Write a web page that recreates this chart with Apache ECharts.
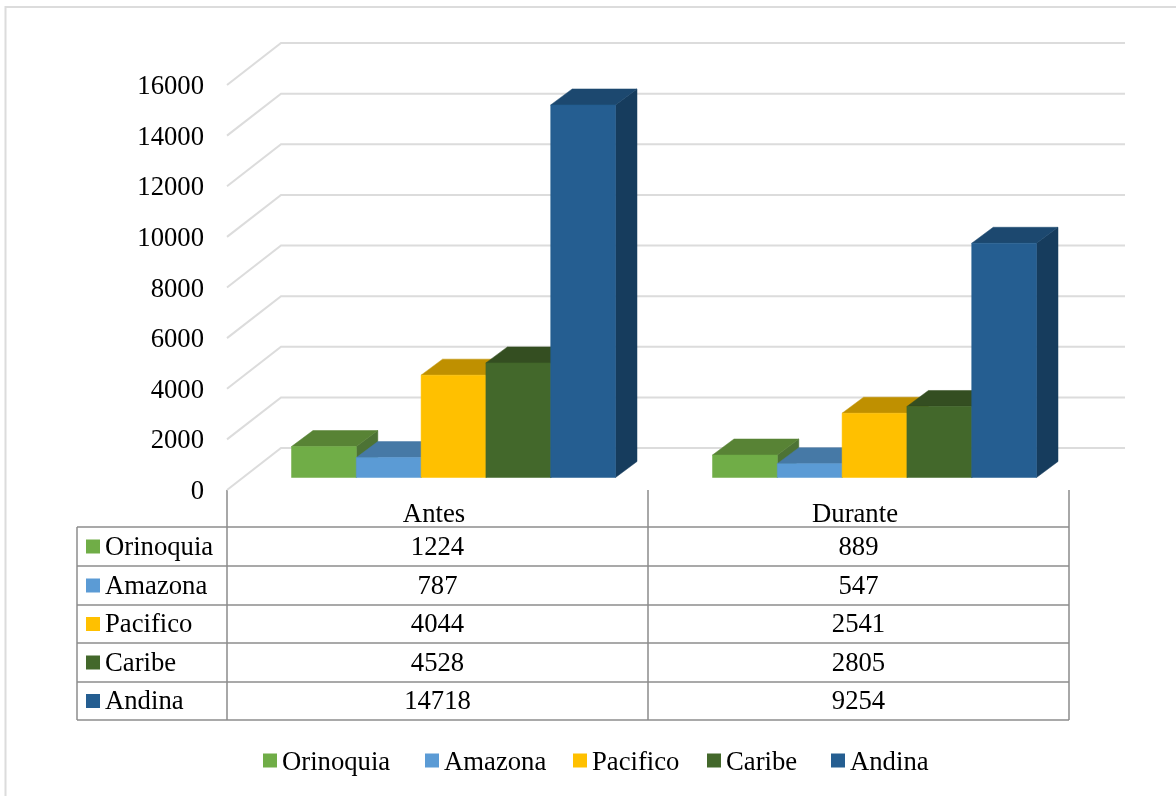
<!DOCTYPE html>
<html>
<head>
<meta charset="utf-8">
<style>
  html, body { margin: 0; padding: 0; background: #fff; }
  #chart { width: 1176px; height: 796px; }
</style>
<script src="https://cdn.jsdelivr.net/npm/echarts@6/dist/echarts.min.js"></script>
</head>
<body>
<div id="chart"></div>
<script>
const periods = ['Antes', 'Durante'];
const regions = ['Orinoquia', 'Amazona', 'Pacifico', 'Caribe', 'Andina'];
const orinoquia = [1224, 889];
const amazona = [787, 547];
const pacifico = [4044, 2541];
const caribe = [4528, 2805];
const andina = [14718, 9254];
const yTicks = [0, 2000, 4000, 6000, 8000, 10000, 12000, 14000, 16000];

const regionValues = [orinoquia, amazona, pacifico, caribe, andina];
// front, top, side
const regionColors = [
  ['#70ad47', '#588335', '#4d7335'],
  ['#5b9bd5', '#4679a6', '#3f6d96'],
  ['#ffc000', '#bf9000', '#a67d00'],
  ['#43682b', '#344e21', '#2c441c'],
  ['#255e91', '#1c486f', '#163c5d'],
];

const fontFamily = '"Liberation Serif", "Times New Roman", serif';
const fontSize = 26.7;
const gridColor = '#dcdcdc';
const tableColor = '#8c8c8c';

// floor depth of the fake 3d box
const wallDx = 54;
const wallDy = 42;
const wallRight = 1125;
// bars sit part way into the floor
const barShiftX = 16;
const barShiftY = 12.5;
const barWidth = 64.8;
const barDx = 21.5;
const barDy = 16;

const gridLeft = 227;
const gridRight = 1069;
const gridTop = 85;
const gridBottom = 490;

const tableLeft = 77;
const rowLines = [527, 566, 605, 643, 682, 720];
// word's legend spacing is not even, so each entry gets its own spot
const legendLefts = [263, 425, 573, 707, 831];
// plain padding does not move middle aligned labels down, rich text does
const nudged = { t: { fontSize, fontFamily, color: '#000', padding: [4, 0, 0, 0] } };

const renderBar = (regionIndex) => (params, api) => {
  const base = api.coord([api.value(0), 0]);
  const top = api.coord([api.value(0), api.value(1)]);
  const x0 = base[0] + barShiftX + (regionIndex - 2.5) * barWidth;
  const x1 = x0 + barWidth;
  const y0 = base[1] - barShiftY;
  const y1 = top[1] - barShiftY;
  const colors = regionColors[regionIndex];
  const poly = (points, fill) => ({
    type: 'polygon',
    shape: { points },
    style: { fill, stroke: fill, lineWidth: 0.5 },
  });
  return {
    type: 'group',
    children: [
      poly([[x1, y0], [x1 + barDx, y0 - barDy], [x1 + barDx, y1 - barDy], [x1, y1]], colors[2]),
      poly([[x0, y1], [x1, y1], [x1 + barDx, y1 - barDy], [x0 + barDx, y1 - barDy]], colors[1]),
      poly([[x0, y0], [x1, y0], [x1, y1], [x0, y1]], colors[0]),
    ],
  };
};

const renderWall = (params, api) => {
  const p = api.coord([0, api.value(0)]);
  const start = [gridLeft, p[1]];
  return {
    type: 'polyline',
    shape: { points: [start, [start[0] + wallDx, start[1] - wallDy], [wallRight, start[1] - wallDy]] },
    style: { fill: 'none', stroke: gridColor, lineWidth: 2 },
    silent: true,
  };
};

const tableGraphic = () => {
  const items = [];
  const colCenter = [(gridLeft + 648) / 2, (648 + gridRight) / 2];
  // chart frame, only top and left show in the picture
  items.push({
    type: 'polyline',
    shape: { points: [[5.5, 796], [5.5, 7], [1176, 7]] },
    style: { fill: 'none', stroke: gridColor, lineWidth: 2 },
  });
  rowLines.forEach((y) => {
    items.push({
      type: 'line',
      shape: { x1: tableLeft, y1: y, x2: gridRight, y2: y },
      style: { stroke: tableColor, lineWidth: 1.5 },
    });
  });
  items.push({
    type: 'line',
    shape: { x1: tableLeft, y1: rowLines[0], x2: tableLeft, y2: rowLines[5] },
    style: { stroke: tableColor, lineWidth: 1.5 },
  });
  regions.forEach((name, i) => {
    const mid = (rowLines[i] + rowLines[i + 1]) / 2;
    items.push({
      type: 'rect',
      shape: { x: 86, y: mid - 7, width: 14, height: 14 },
      style: { fill: regionColors[i][0] },
    });
    items.push({
      type: 'text',
      style: { x: 105, y: mid + 1, text: name, font: fontSize + 'px ' + fontFamily, fill: '#000', verticalAlign: 'middle' },
    });
    regionValues[i].forEach((v, c) => {
      items.push({
        type: 'text',
        style: {
          x: colCenter[c], y: mid + 1, text: String(v), font: fontSize + 'px ' + fontFamily,
          fill: '#000', align: 'center', verticalAlign: 'middle',
        },
      });
    });
  });
  return items;
};

const chart = echarts.init(document.getElementById('chart'));

chart.setOption({
  animation: false,
  backgroundColor: '#fff',
  textStyle: { fontFamily },
  grid: { left: gridLeft, right: 1176 - gridRight, top: gridTop, bottom: 796 - gridBottom },
  legend: regions.map((name, i) => ({
    data: [name],
    left: legendLefts[i],
    top: 749,
    padding: 0,
    icon: 'rect',
    itemWidth: 14,
    itemHeight: 14,
    formatter: (n) => `{t|${n}}`,
    textStyle: { fontFamily, fontSize, color: '#000', rich: nudged },
  })),
  xAxis: {
    type: 'category',
    data: periods,
    axisLine: { show: false },
    axisTick: { show: true, length: 230, lineStyle: { color: tableColor, width: 1.5 } },
    axisLabel: { fontSize, color: '#000', margin: 11, fontFamily, padding: [0, 7, 0, 0] },
    splitLine: { show: false },
  },
  yAxis: {
    type: 'value',
    min: 0,
    max: 16000,
    interval: 2000,
    axisLine: { show: false },
    axisTick: { show: false },
    splitLine: { show: false },
    axisLabel: { fontSize, color: '#000', margin: 23, fontFamily, rich: nudged, formatter: (v) => `{t|${v}}` },
  },
  graphic: tableGraphic(),
  series: [
    {
      name: 'walls',
      type: 'custom',
      silent: true,
      renderItem: renderWall,
      encode: { y: 0 },
      data: yTicks.map((t) => [t]),
      z: 1,
    },
    ...regions.map((name, i) => ({
      name,
      type: 'custom',
      renderItem: renderBar(i),
      itemStyle: { color: regionColors[i][0] },
      encode: { x: 0, y: 1 },
      data: periods.map((p, c) => [c, regionValues[i][c]]),
      z: 2,
    })),
  ],
});

window.addEventListener('resize', () => chart.resize());
</script>
</body>
</html>
